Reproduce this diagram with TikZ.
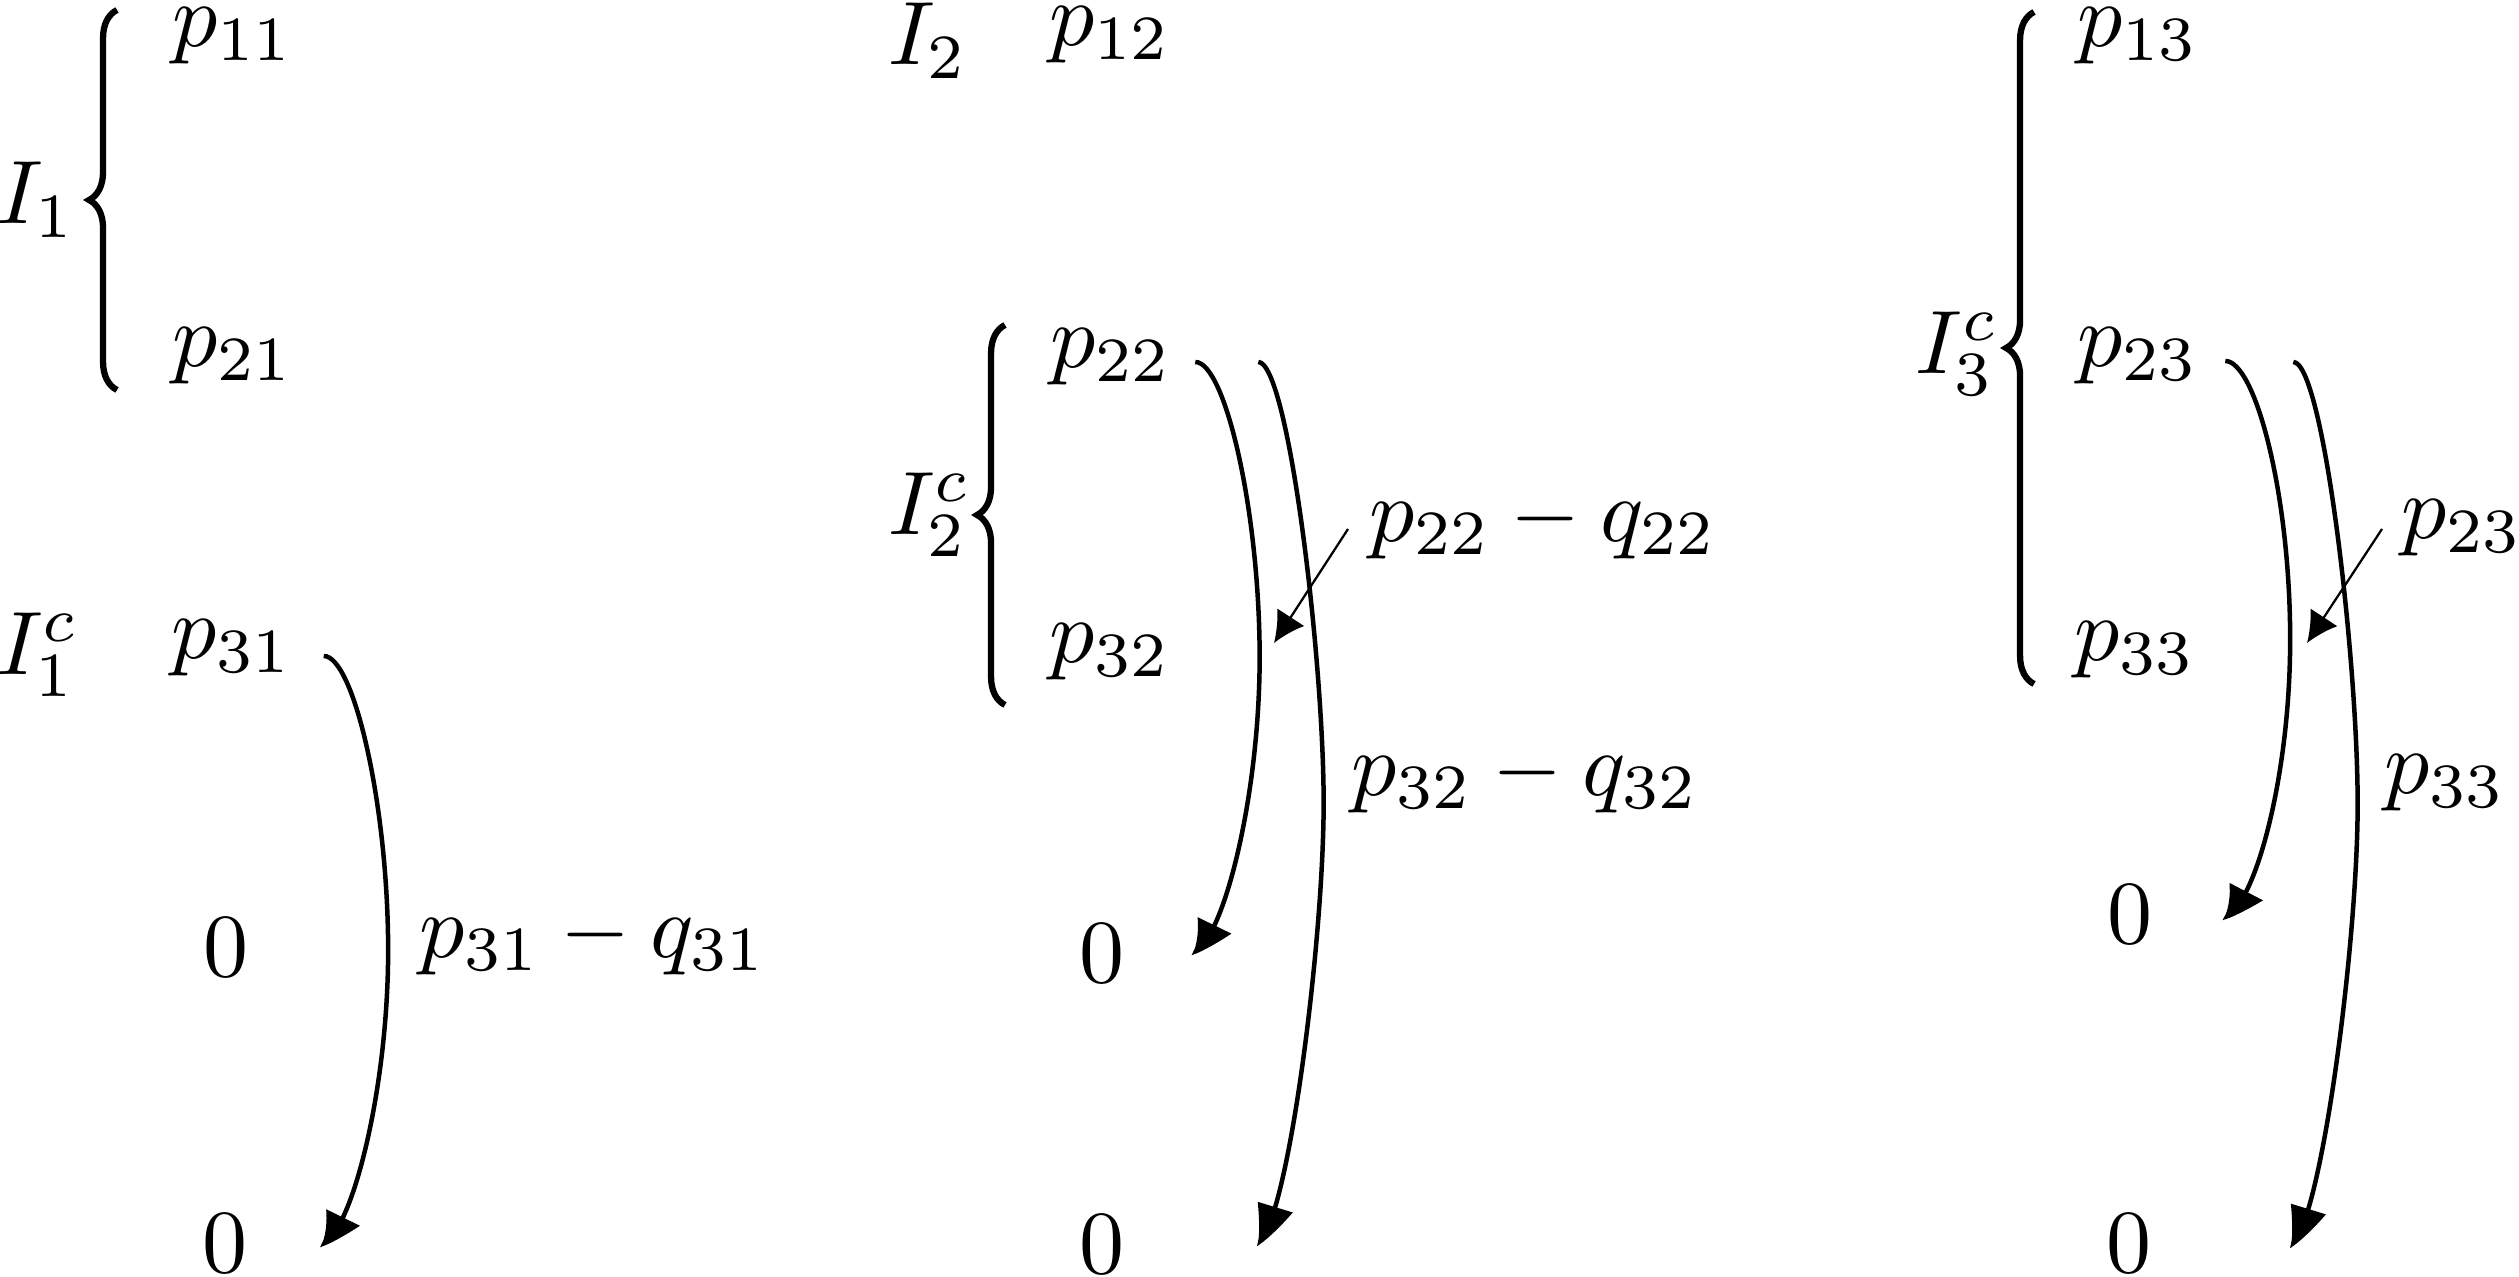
\documentclass[tikz,border=0pt]{standalone}
\usetikzlibrary{arrows.meta,bending,decorations.pathreplacing,calc}
\begin{document}
\begin{tikzpicture}[x=0.11111pt,y=-0.11111pt,
  lab/.style={inner sep=0pt,outer sep=0pt},
  arr/.style={line width=0.5pt,-{Latex[length=4pt,width=4.4pt,bend]}},
  pinarr/.style={line width=0.25pt,-{Latex[length=3.4pt,width=3.6pt]}},
  brc/.style={line width=0.7pt,decorate,decoration={brace,amplitude=3.1pt}}]
\useasboundingbox (0,0) rectangle (2519,1277);

% column 1
\node[lab] (I1)  at (36,200)  {$I_1$};
\node[lab] (p11) at (233,36)  {$p_{11}$};
\node[lab] (p21) at (233,356) {$p_{21}$};
\node[lab] (I1c) at (38,655)  {$I_1^c$};
\node[lab] (p31) at (232,648) {$p_{31}$};
\node[lab] (z11) at (226,948) {$0$};
\node[lab] (z12) at (225,1244) {$0$};
\node[lab,anchor=west] (l31) at (419,940) {$p_{31}-q_{31}$};

% column 2
\node[lab] (I2)  at (928,41)   {$I_2$};
\node[lab] (p12) at (1110,35)  {$p_{12}$};
\node[lab] (I2c) at (930,515)  {$I_2^c$};
\node[lab] (p22) at (1111,357) {$p_{22}$};
\node[lab] (p32) at (1110,652) {$p_{32}$};
\node[lab] (z21) at (1102,954) {$0$};
\node[lab] (z22) at (1102,1245) {$0$};
\node[lab,anchor=west] (l22) at (1369,524) {$p_{22}-q_{22}$};
\node[lab,anchor=west] (l32) at (1351,778) {$p_{32}-q_{32}$};

% column 3
\node[lab] (I3c) at (1957,354) {$I_3^c$};
\node[lab] (p13) at (2138,36)  {$p_{13}$};
\node[lab] (p23) at (2138,356) {$p_{23}$};
\node[lab] (p33) at (2135,650) {$p_{33}$};
\node[lab] (z31) at (2130,915) {$0$};
\node[lab] (z32) at (2129,1244) {$0$};
\node[lab,anchor=west] (l23) at (2401,528) {$p_{23}$};
\node[lab,anchor=west] (l33) at (2384,783) {$p_{33}$};

% braces
\draw[brc] (117,390) -- (117,10);
\draw[brc] (1005,705) -- (1005,325);
\draw[brc] (2034,684) -- (2034,12);

% arrow end points
\coordinate (a1s) at ($(p31.east)+(31,8)$);
\coordinate (a1e) at ($(z12.east)+(71,1)$);
\coordinate (b1s) at ($(p22.east)+(23.5,5)$);
\coordinate (b1e) at ($(z21.east)+(65.5,-1)$);
\coordinate (b2s) at ($(p22.east)+(86.5,5)$);
\coordinate (b2e) at ($(z22.east)+(130.5,-1)$);
\coordinate (c1s) at ($(p23.east)+(26.5,5)$);
\coordinate (c1e) at ($(z31.east)+(68.5,3)$);
\coordinate (c2s) at ($(p23.east)+(94.5,6)$);
\coordinate (c2e) at ($(z32.east)+(136.5,2)$);

\foreach \s/\e in {a1s/a1e,b1s/b1e,b2s/b2e,c1s/c1e,c2s/c2e}{
  \draw[arr] (\s) .. controls +(30,0) and +(0,-145) .. ($(\s)!0.5!(\e)+(67,0)$)
                 .. controls +(0,145) and +(30,0) .. (\e);
}

% pins
\draw[pinarr] ($(l22.west)+(-21,5)$) -- ++(-74,114);
\draw[pinarr] ($(l23.west)+(-19,1)$) -- ++(-75,114);
\end{tikzpicture}
\end{document}
